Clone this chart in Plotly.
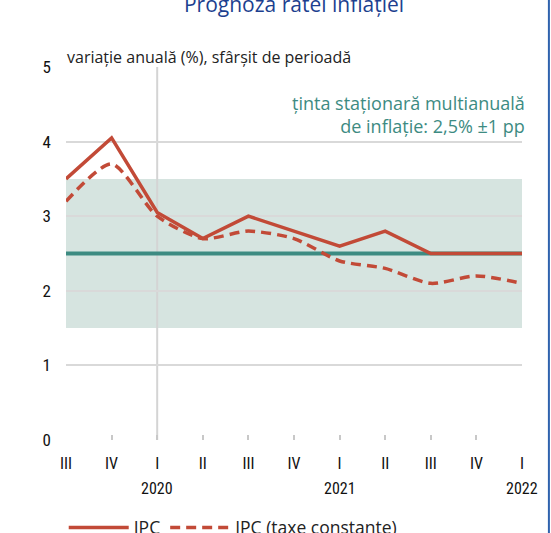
import plotly.graph_objects as go

# trimestre (axa x)
quarters = ["III", "IV", "I", "II", "III", "IV", "I", "II", "III", "IV", "I"]
years = {2: "2020", 6: "2021", 10: "2022"}

# variatie anuala (%), sfarsit de perioada
ipc = [3.5, 4.05, 3.05, 2.7, 3.0, 2.8, 2.6, 2.8, 2.5, 2.5, 2.5]
ipc_taxe = [3.2, 3.7, 3.0, 2.7, 2.8, 2.7, 2.4, 2.3, 2.1, 2.2, 2.1]

# tinta de inflatie
target = 2.5
band = 1.0

x = list(range(len(quarters)))
red = "#c24a37"
teal = "#3d8b82"
cond = "Liberation Sans Narrow, Arial Narrow, Roboto Condensed, sans-serif"
txt = "Open Sans, Noto Sans, sans-serif"

fig = go.Figure()

# banda tintei
fig.add_shape(type="rect", xref="x", yref="y", x0=x[0], x1=x[-1],
              y0=target - band, y1=target + band,
              fillcolor="#d6e4e0", line_width=0, layer="below")
# linie verticala la inceputul anului 2020
fig.add_shape(type="line", xref="x", yref="y", x0=x[2], x1=x[2], y0=0, y1=5,
              line=dict(color="#d4d4d4", width=2), layer="below")
# chenar albastru in dreapta
fig.add_shape(type="line", xref="paper", yref="paper", x0=1.059, x1=1.059,
              y0=-0.3, y1=1.3, line=dict(color="#2f62ad", width=2))

fig.add_trace(go.Scatter(x=x, y=[target] * len(x), mode="lines",
                         line=dict(color=teal, width=4), showlegend=False,
                         hoverinfo="skip"))
fig.add_trace(go.Scatter(x=x, y=ipc, mode="lines", name="IPC",
                         line=dict(color=red, width=3.5)))
fig.add_trace(go.Scatter(x=x, y=ipc_taxe, mode="lines", name="IPC (taxe constante)",
                         line=dict(color=red, width=3.5, dash="10px,6px",
                                   shape="spline", smoothing=0.7)))

for i, yr in years.items():
    fig.add_annotation(x=i, y=-0.129, xref="x", yref="paper", yanchor="middle",
                       text=yr, showarrow=False,
                       font=dict(family=cond, size=16, color="#111"))

fig.add_annotation(x=1.012, y=0.872, xref="paper", yref="paper", xanchor="right",
                   yanchor="middle", align="right",
                   text="ținta staționară multianuală<br>de inflație: 2,5% ±1 pp",
                   showarrow=False, font=dict(family=txt, size=18, color=teal))
fig.add_annotation(x=-0.002, y=1.028, xref="paper", yref="paper", xanchor="left",
                   yanchor="middle", text="variație anuală (%), sfârșit de perioadă",
                   showarrow=False, font=dict(family=txt, size=16, color="#222"))

fig.update_layout(
    width=551, height=533,
    margin=dict(l=66, r=29, t=67, b=93, autoexpand=False),
    paper_bgcolor="white", plot_bgcolor="white",
    title=dict(text="Prognoza ratei inflației", x=0.5, xanchor="center",
               y=0.991, yanchor="middle", xref="paper",
               font=dict(family=txt, size=21, color="#1d3f8f")),
    xaxis=dict(range=[x[0], x[-1]], tickvals=x, ticktext=quarters,
               showgrid=False, zeroline=False, showline=False, automargin=False,
               ticks="inside", ticklen=5, tickcolor="#c8c8c8", tickwidth=1.5,
               ticklabelstandoff=12,
               tickfont=dict(family=cond, size=16, color="#111")),
    yaxis=dict(range=[0, 5], dtick=1, showgrid=True, gridcolor="#d9d9d9",
               gridwidth=1.5, zeroline=False, showline=False, automargin=False,
               ticklabelstandoff=14,
               tickfont=dict(family=cond, size=17, color="#111")),
    legend=dict(orientation="h", x=-0.005, y=-0.235, xanchor="left", yanchor="middle",
                itemwidth=60, font=dict(family=txt, size=17.5, color="#222")),
    showlegend=True,
)

fig.write_html("out.html", config={"displayModeBar": False},
               post_script="document.body.style.margin='0';")
